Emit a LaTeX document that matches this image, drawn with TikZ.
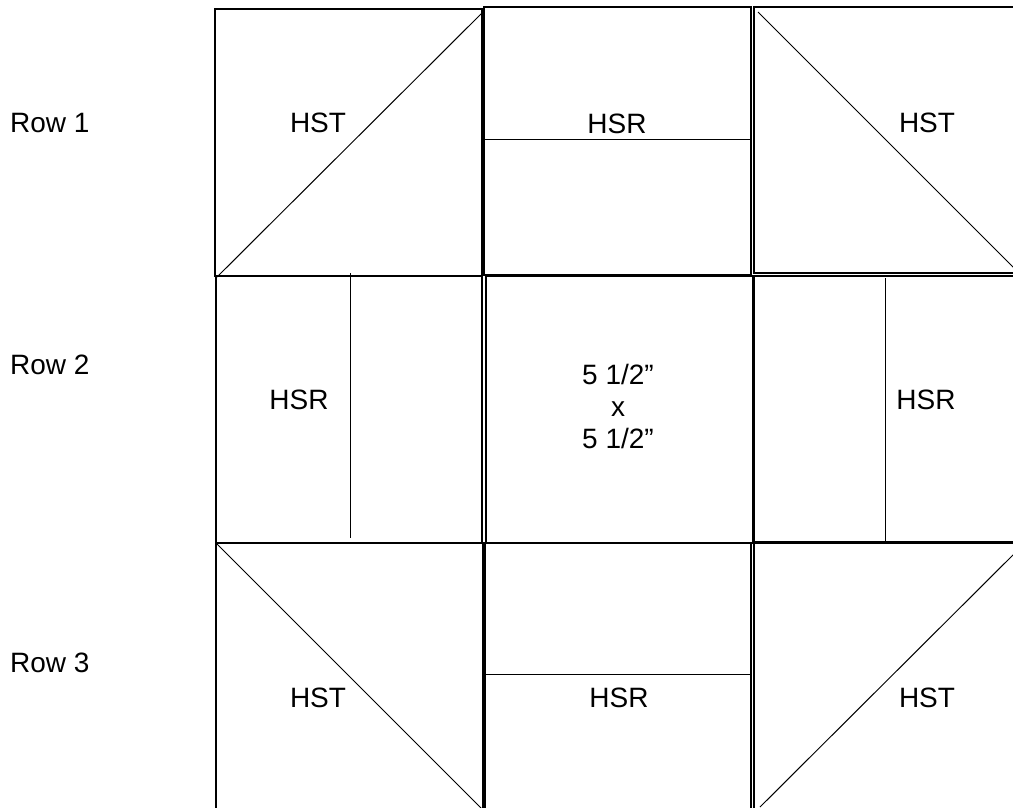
\documentclass[tikz,border=0pt]{standalone}
\usepackage{fontspec}
\setmainfont{Liberation Sans}
\begin{document}
\begin{tikzpicture}[x=1pt,y=-1pt,
  edge/.style={draw=black,line width=1.1pt},
  seam/.style={draw=black,line width=1pt},
  lbl/.style={inner sep=0pt,font=\fontsize{28}{32}\selectfont}]
\useasboundingbox (0,0) rectangle (1013,807);
\begin{scope}
\clip (0,0) rectangle (1013,807);
% Row 1
\draw[edge] (215,9) rectangle (482,276);
\draw[seam] (217,277) -- (482,13);
\draw[edge] (484,7) rectangle (751,275);
\draw[seam] (484,139) -- (751,139);
\draw[edge] (754,7) rectangle (1021,273);
\draw[seam] (758,12) -- (1021,275);
% Row 2
\draw[edge] (216,276) rectangle (482,543);
\draw[seam] (350,273) -- (350,538);
\draw[edge] (486,276) rectangle (753,543);
\draw[edge] (754,276) rectangle (1021,543);
\draw[seam] (885,278) -- (885,544);
% Row 3
\draw[edge] (216,543) rectangle (483,812);
\draw[seam] (216,543) -- (483,810);
\draw[edge] (485,543) rectangle (751,812);
\draw[seam] (485,674) -- (751,674);
\draw[edge] (754,542) rectangle (1021,812);
\draw[seam] (760,807) -- (1021,547);
\end{scope}
% Row labels
\node[lbl,anchor=west] (r1) at (10,123) {Row 1};
\node[lbl,anchor=west] (r2) at (10,365) {Row 2};
\node[lbl,anchor=west] (r3) at (10,663) {Row 3};
% Piece labels
\node[lbl] (a) at (318,123) {HST};
\node[lbl] (b) at (617,124) {HSR};
\node[lbl] (c) at (927,123) {HST};
\node[lbl] (d) at (299,400) {HSR};
\node[lbl,align=center] (e) at (618,406) {5 1/2”\\x\\5 1/2”};
\node[lbl] (f) at (926,400) {HSR};
\node[lbl] (g) at (318,698) {HST};
\node[lbl] (h) at (619,698) {HSR};
\node[lbl] (i) at (927,698) {HST};
\end{tikzpicture}
\end{document}
